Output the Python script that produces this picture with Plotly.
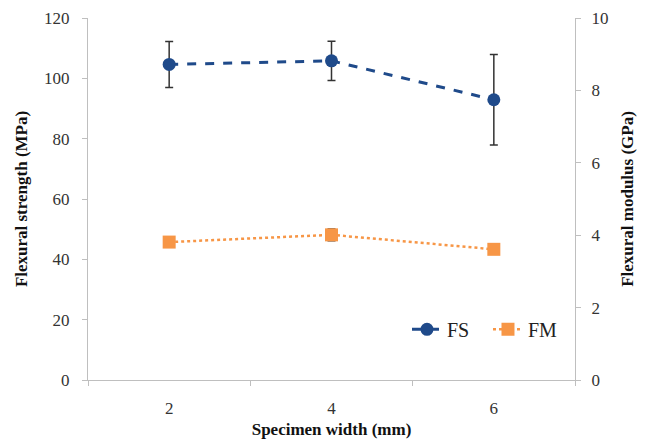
import plotly.graph_objects as go

widths = ["2", "4", "6"]
fs = [104.6, 105.8, 92.9]
fs_err = [7.6, 6.5, 15.0]
fm = [3.81, 4.01, 3.61]
fm_err = [0.12, 0.16, 0.04]

axis_col = "#BFBFBF"
ff = "Liberation Serif"

def fnt(size, color="#333333"):
    return dict(family=ff, size=size, color=color)

fig = go.Figure()
fig.add_trace(go.Scatter(
    x=widths, y=fs, name="FS", mode="lines+markers",
    line=dict(color="#1F4A8A", width=3, dash="dash"),
    marker=dict(symbol="circle", size=13, color="#1F4A8A"),
    error_y=dict(type="data", array=fs_err, color="#333333", thickness=1.5, width=4),
))
fig.add_trace(go.Scatter(
    x=widths, y=fm, name="FM", mode="lines+markers", yaxis="y2",
    line=dict(color="#F79646", width=2.5, dash="dot"),
    marker=dict(symbol="square", size=13, color="#F79646"),
    error_y=dict(type="data", array=fm_err, color="#333333", thickness=1.5, width=4),
))

fig.update_layout(
    width=648, height=444,
    margin=dict(l=80, r=81, t=10, b=72, autoexpand=False),
    paper_bgcolor="white", plot_bgcolor="white",
    font=fnt(16),
    showlegend=True,
    legend=dict(orientation="h", x=0.655, y=0.14, xanchor="left", yanchor="middle",
                bgcolor="rgba(0,0,0,0)", font=fnt(20, "#222222"),
                entrywidth=36, entrywidthmode="pixels"),
    xaxis=dict(type="category", range=[-0.5, 2.5], showline=True, linecolor=axis_col,
               linewidth=1, ticks="outside", tickson="boundaries", ticklen=5,
               tickcolor=axis_col, showgrid=False, zeroline=False, automargin=False,
               tickfont=fnt(17), ticklabelstandoff=13, ticklabeloverflow="allow",
               title=dict(text="<b>Specimen width (mm)</b>", font=fnt(17, "#111111"), standoff=5)),
    yaxis=dict(range=[0, 120], dtick=20, showline=True, linecolor=axis_col, linewidth=1,
               ticks="outside", ticklen=5, tickcolor=axis_col, showgrid=False, zeroline=False,
               automargin=False, tickfont=fnt(17), ticklabelstandoff=9,
               ticklabeloverflow="allow",
               title=dict(text="<b>Flexural strength (MPa)</b>", font=fnt(17, "#111111"), standoff=12)),
    yaxis2=dict(range=[0, 10], dtick=2, overlaying="y", side="right", showline=True,
                linecolor=axis_col, linewidth=1, ticks="outside", ticklen=5, tickcolor=axis_col,
                showgrid=False, zeroline=False, automargin=False, tickfont=fnt(17),
                ticklabelstandoff=7, ticklabeloverflow="allow",
                title=dict(text="<b>Flexural modulus (GPa)</b>", font=fnt(17, "#111111"), standoff=13)),
)

fig.write_html("out.html")
